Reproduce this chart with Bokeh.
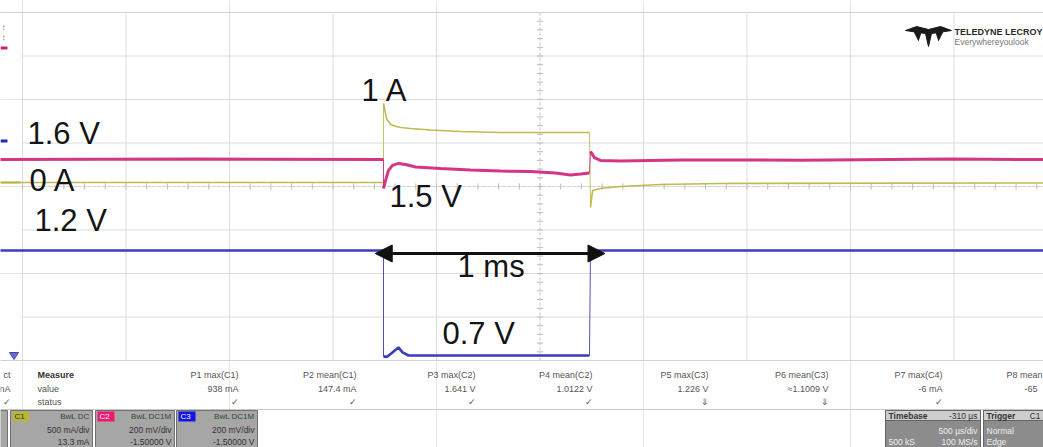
from bokeh.plotting import figure
from bokeh.models import Range1d, Arrow, NormalHead
from bokeh.core.properties import value
from bokeh.embed import file_html
from bokeh.resources import INLINE

# ---------------- acquisition / display settings ----------------
MS_PER_DIV = 0.5          # timebase, ms per division
N_XDIV, N_YDIV = 10, 8    # graticule divisions

# channel name, units per division, value at the graticule centre, colour
ch_names = ["C1", "C2", "C3"]
ch_per_div = [0.5, 0.2, 0.2]
ch_center = [-0.046, 1.5, 1.5]
ch_colors = ["#b5b540", "#d01f78", "#2626b8"]

# ---------------- traces (time in ms) ----------------
# C1: load current (A)
i_pre_t = [-0.11, 1.744]
i_pre = [0.0, 0.0]
i_on_t = [1.744, 1.758, 1.778, 1.807, 1.826, 1.874, 1.971, 2.116, 2.309, 2.739]
i_on = [0.908, 0.736, 0.667, 0.644, 0.632, 0.621, 0.603, 0.586, 0.575, 0.575]
i_off_t = [2.744, 2.754, 2.792, 2.889, 3.082, 3.372, 4.94]
i_off = [-0.287, -0.092, -0.069, -0.046, -0.023, -0.011, -0.006]

# C2: supply rail (V)
v2_pre_t = [-0.11, 0.860, 1.744]
v2_pre = [1.624, 1.626, 1.624]
v2_on_t = [1.744, 1.754, 1.768, 1.787, 1.816, 1.850, 1.899, 2.019, 2.164,
           2.309, 2.454, 2.575, 2.647, 2.696, 2.739]
v2_on = [1.491, 1.528, 1.574, 1.597, 1.606, 1.601, 1.590, 1.583, 1.576,
         1.571, 1.569, 1.562, 1.553, 1.557, 1.562]
v2_off_t = [2.744, 2.763, 2.792, 2.889, 3.179, 3.758, 4.483, 4.94]
v2_off = [1.661, 1.633, 1.620, 1.617, 1.622, 1.621, 1.626, 1.624]

# C3: output rail (V)
v3_pre_t = [-0.11, 1.744]
v3_pre = [1.206, 1.206]
v3_on_t = [1.744, 1.763, 1.787, 1.816, 1.836, 1.865, 2.739]
v3_on = [0.718, 0.718, 0.737, 0.760, 0.737, 0.723, 0.723]
v3_off_t = [2.744, 4.94]
v3_off = [1.206, 1.206]

pulse_start, pulse_width = 1.744, 1.0   # ms

# ---------------- measurement table ----------------
meas_names = ["P1 max(C1)", "P2 mean(C1)", "P3 max(C2)", "P4 mean(C2)",
              "P5 max(C3)", "P6 mean(C3)", "P7 max(C4)"]
meas_values = ["938 mA", "147.4 mA", "1.641 V", "1.0122 V",
               "1.226 V", "\u22481.1009 V", "-6 mA"]
meas_status = ["\u2713", "\u2713", "\u2713", "\u2713", "\u21d3", "\u21d3", "\u2713"]
# last column, only partly on screen
last_name, last_value = "P8 mean", "-65"

ch_vdiv_text = ["500 mA/div", "200 mV/div", "200 mV/div"]
ch_offset_text = ["13.3 mA", "-1.50000 V", "-1.50000 V"]

# ---------------- figure ----------------
W, H = 1043, 447
X_LEFT_PX, PX_PER_DIV_X = 22, 103.5
Y_CENTER_PX, PX_PER_DIV_Y = 186, 43.5

px_per_ms = PX_PER_DIV_X / MS_PER_DIV
x0 = -X_LEFT_PX / px_per_ms
x1 = (W - X_LEFT_PX) / px_per_ms
y_top = Y_CENTER_PX / PX_PER_DIV_Y
y_bot = -(H - Y_CENTER_PX) / PX_PER_DIV_Y

p = figure(width=W, height=H, x_range=Range1d(x0, x1), y_range=Range1d(y_bot, y_top),
           output_backend="svg", toolbar_location=None, min_border=0,
           x_axis_location=None, y_axis_location=None)
p.outline_line_color = None
p.background_fill_color = "white"
p.border_fill_color = "white"

p.extra_x_ranges = {"px": Range1d(0, W)}
extra_y = {"px": Range1d(H, 0)}
for name, s, c in zip(ch_names, ch_per_div, ch_center):
    extra_y[name] = Range1d(c + y_bot * s, c + y_top * s)
p.extra_y_ranges = extra_y

FONT = value("Liberation Sans")

# ---------------- graticule ----------------
half_x = N_XDIV * MS_PER_DIV
gx = [k * MS_PER_DIV for k in range(N_XDIV + 1)]
gy = [k - N_YDIV / 2 for k in range(N_YDIV + 1)]
centre_t = half_x / 2
p.segment(x0=[g for g in gx if g != centre_t], y0=-N_YDIV / 2,
          x1=[g for g in gx if g != centre_t], y1=N_YDIV / 2,
          line_color="#dcdcdc", line_width=1)
p.segment(x0=0, y0=[g for g in gy if g != 0], x1=half_x, y1=[g for g in gy if g != 0],
          line_color="#dcdcdc", line_width=1)
p.segment(x0=[centre_t], y0=[-N_YDIV / 2], x1=[centre_t], y1=[N_YDIV / 2],
          line_color="#c4c4c4", line_width=1, line_dash="3 2")
p.segment(x0=[0], y0=[0], x1=[half_x], y1=[0],
          line_color="#d0d0d0", line_width=1, line_dash="3 2")
# minor ticks along the centre lines
tx = [k * MS_PER_DIV / 5 for k in range(N_XDIV * 5 + 1)]
p.segment(x0=tx, y0=-0.07, x1=tx, y1=0.07, line_color="#bdbdbd", line_width=1)
ty = [k / 5 - N_YDIV / 2 for k in range(N_YDIV * 5 + 1)]
p.segment(x0=centre_t - 0.015, y0=ty, x1=centre_t + 0.015, y1=ty,
          line_color="#bdbdbd", line_width=1)
# frame edges that run into the left margin
p.segment(x0=[x0, x0], y0=[N_YDIV / 2, -N_YDIV / 2], x1=[half_x, half_x + 1],
          y1=[N_YDIV / 2, -N_YDIV / 2], line_color="#d2d2d2", line_width=1)

# ---------------- traces ----------------
traces = [
    ("C1", (i_pre_t, i_pre), (i_on_t, i_on), (i_off_t, i_off), 1.6),
    ("C2", (v2_pre_t, v2_pre), (v2_on_t, v2_on), (v2_off_t, v2_off), 3.0),
    ("C3", (v3_pre_t, v3_pre), (v3_on_t, v3_on), (v3_off_t, v3_off), 2.6),
]
for name, pre, on, off, lw in traces:
    col = ch_colors[ch_names.index(name)]
    # switching edges drawn thin
    p.segment(x0=[pre[0][-1], on[0][-1]], y0=[pre[1][-1], on[1][-1]],
              x1=[on[0][0], off[0][0]], y1=[on[1][0], off[1][0]],
              line_color=col, line_width=1, line_alpha=0.8, y_range_name=name)
    for tt, vv in (pre, on, off):
        p.line(tt, vv, line_color=col, line_width=lw, line_alpha=0.9, y_range_name=name)

# pulse width arrow
arrow_y = -1.54
p.add_layout(Arrow(x_start=pulse_start - 0.04, y_start=arrow_y,
                   x_end=pulse_start + pulse_width + 0.07, y_end=arrow_y,
                   line_color="#111111", line_width=3,
                   start=NormalHead(size=17, fill_color="#111111", line_color="#111111"),
                   end=NormalHead(size=17, fill_color="#111111", line_color="#111111")))

# ---------------- annotations ----------------
ann_text = ["1.6 V", "0 A", "1.2 V", "1 A", "1.5 V", "1 ms", "0.7 V"]
ann_x = [27, 29, 34, 361, 389, 457, 442]
ann_y = [133, 180, 220, 90, 196, 266, 333]
p.text(x=ann_x, y=ann_y, text=ann_text, text_font=FONT, text_font_size="31px",
       text_color="#141414", text_baseline="alphabetic", text_align="left",
       x_range_name="px", y_range_name="px")

# ---------------- left margin markers ----------------
p.quad(left=[0, 0, 0], right=[7, 7, 20], top=[46, 139, 181], bottom=[49, 142, 183],
       fill_color=[ch_colors[1], ch_colors[2], ch_colors[0]], line_color=None,
       x_range_name="px", y_range_name="px")
p.text(x=[1, 1], y=[27, 37], text=["\u2195", "\u2195"], text_font=FONT,
       text_font_size="8px", text_color="#888888", text_baseline="middle",
       x_range_name="px", y_range_name="px")
p.patch(x=[9, 18, 13.5], y=[352, 352, 359], fill_color="#6b6bd0", line_color="#4444aa",
        x_range_name="px", y_range_name="px")

# ---------------- logo ----------------
p.patch(x=[905, 916, 928, 940, 951, 938, 931, 928, 925, 918],
        y=[30, 26, 29, 26, 30, 32, 33, 46, 33, 32],
        fill_color="#1a1a1a", line_color="#1a1a1a", x_range_name="px", y_range_name="px")
p.patch(x=[913, 921, 918], y=[31, 32, 41], fill_color="#1a1a1a", line_color=None,
        x_range_name="px", y_range_name="px")
p.patch(x=[935, 943, 938], y=[32, 31, 41], fill_color="#1a1a1a", line_color=None,
        x_range_name="px", y_range_name="px")
p.text(x=[954], y=[31], text=["TELEDYNE LECROY"], text_font=FONT, text_font_size="9px",
       text_font_style="bold", text_color="#2a2a2a", text_baseline="middle",
       x_range_name="px", y_range_name="px")
p.text(x=[954], y=[41], text=["Everywhereyoulook"], text_font=FONT, text_font_size="8.5px",
       text_color="#777777", text_baseline="middle", x_range_name="px", y_range_name="px")

# ---------------- measurement table ----------------
col_right = [238, 356, 475, 592, 708, 828, 942]
row_y = [374, 388, 401]
p.segment(x0=[0], y0=[409], x1=[W], y1=[409], line_color="#c8c8c8", line_width=1,
          x_range_name="px", y_range_name="px")
p.text(x=[37], y=[row_y[0]], text=["Measure"], text_font=FONT, text_font_size="9px",
       text_font_style="bold", text_color="#333333", text_baseline="middle",
       x_range_name="px", y_range_name="px")
p.text(x=[37, 37], y=row_y[1:], text=["value", "status"], text_font=FONT,
       text_font_size="9px", text_color="#555555", text_baseline="middle",
       x_range_name="px", y_range_name="px")
p.text(x=[10, 10, 10], y=row_y, text=["ct", "nA", "\u2713"], text_font=FONT,
       text_font_size="9px", text_color="#555555", text_baseline="middle", text_align="right",
       x_range_name="px", y_range_name="px")
for row, texts in zip(row_y, (meas_names, meas_values, meas_status)):
    p.text(x=col_right, y=row, text=texts, text_font=FONT, text_font_size="9px",
           text_color="#555555", text_baseline="middle", text_align="right",
           x_range_name="px", y_range_name="px")
p.text(x=[1006, 1024], y=row_y[:2], text=[last_name, last_value], text_font=FONT,
       text_font_size="9px", text_color="#555555", text_baseline="middle",
       x_range_name="px", y_range_name="px")

# ---------------- channel descriptor boxes ----------------
box_l = [10, 95, 176]
box_r = [92, 174, 257]
p.quad(left=[-5] + box_l, right=[7] + box_r, top=410, bottom=450,
       fill_color="#a6a6a6", line_color="#707070", line_width=1,
       x_range_name="px", y_range_name="px")
p.quad(left=[b + 2 for b in box_l], right=[b + 19 for b in box_l], top=411, bottom=421,
       fill_color=[ch_colors[0], "#ee1a72", "#1414e6"], line_color=None,
       x_range_name="px", y_range_name="px")
p.text(x=[b + 4 for b in box_l], y=416, text=ch_names, text_font=FONT, text_font_size="8px",
       text_color=["#333333", "#ffffff", "#ffffff"], text_baseline="middle",
       x_range_name="px", y_range_name="px")
p.text(x=[r - 3 for r in box_r], y=416, text=["BwL DC", "BwL DC1M", "BwL DC1M"],
       text_font=FONT, text_font_size="8px", text_color="#2f4a2f", text_baseline="middle",
       text_align="right", x_range_name="px", y_range_name="px")
p.text(x=[r - 3 for r in box_r], y=429, text=ch_vdiv_text, text_font=FONT,
       text_font_size="8.5px", text_color="#333333", text_baseline="middle",
       text_align="right", x_range_name="px", y_range_name="px")
p.text(x=[r - 3 for r in box_r], y=441, text=ch_offset_text, text_font=FONT,
       text_font_size="8.5px", text_color="#333333", text_baseline="middle",
       text_align="right", x_range_name="px", y_range_name="px")

# timebase / trigger boxes
p.quad(left=[885, 983], right=[980, 1050], top=410, bottom=450,
       fill_color="#8c8c8c", line_color="#666666", x_range_name="px", y_range_name="px")
p.quad(left=[885, 983], right=[980, 1050], top=410, bottom=420,
       fill_color="#cdcdcd", line_color="#666666", x_range_name="px", y_range_name="px")
p.text(x=[888, 986], y=415, text=["Timebase", "Trigger"], text_font=FONT,
       text_font_size="8.5px", text_font_style="bold", text_color="#333333",
       text_baseline="middle", x_range_name="px", y_range_name="px")
p.text(x=[977, 1040], y=415, text=["-310 \u00b5s", "C1"], text_font=FONT,
       text_font_size="8.5px", text_color="#333333", text_baseline="middle",
       text_align="right", x_range_name="px", y_range_name="px")
p.text(x=[977, 977], y=[430, 441], text=["500 \u00b5s/div", "100 MS/s"], text_font=FONT,
       text_font_size="8.5px", text_color="#eeeeee", text_baseline="middle",
       text_align="right", x_range_name="px", y_range_name="px")
p.text(x=[888, 986, 986], y=[441, 430, 441], text=["500 kS", "Normal", "Edge"],
       text_font=FONT, text_font_size="8.5px", text_color="#eeeeee",
       text_baseline="middle", x_range_name="px", y_range_name="px")

open("out.html", "w").write(file_html(p, INLINE))
